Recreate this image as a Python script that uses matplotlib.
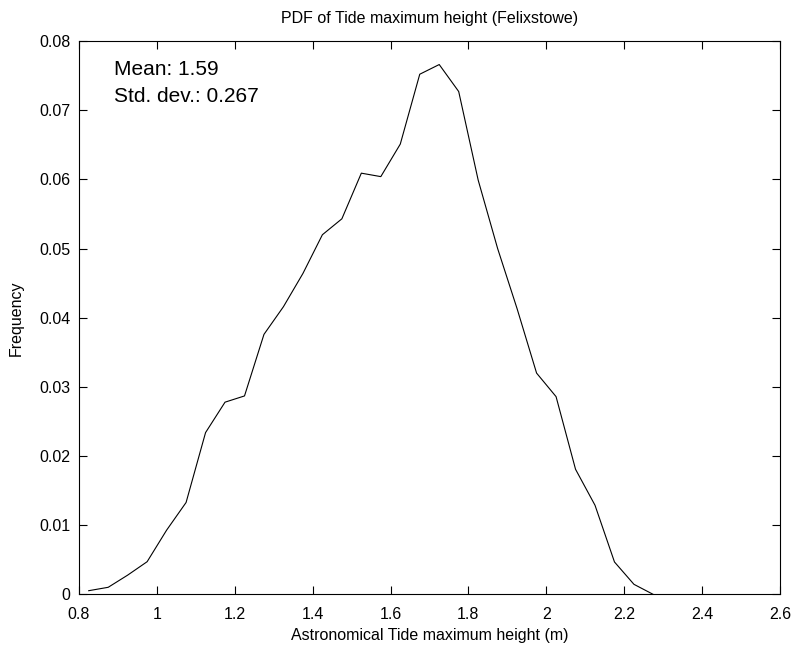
import numpy as np
import matplotlib
matplotlib.use("Agg")
import matplotlib.pyplot as plt

# bin centres (m) and frequencies
height = [0.825, 0.875, 0.925, 0.975, 1.025, 1.075, 1.125, 1.175, 1.225, 1.275,
          1.325, 1.375, 1.425, 1.475, 1.525, 1.575, 1.625, 1.675, 1.725, 1.775,
          1.825, 1.875, 1.925, 1.975, 2.025, 2.075, 2.125, 2.175, 2.225, 2.275]
freq = [0.00055, 0.00104, 0.0028, 0.00474, 0.0093, 0.0133, 0.0234, 0.0278, 0.0287, 0.0376,
        0.0416, 0.0464, 0.0520, 0.0543, 0.0609, 0.0604, 0.0651, 0.0752, 0.0766, 0.0727,
        0.0599, 0.0500, 0.0413, 0.0320, 0.0286, 0.0181, 0.0129, 0.0047, 0.00147, 0.0]

mean_val = 1.59
std_val = 0.267

plt.rcParams['font.family'] = ['Liberation Sans', 'DejaVu Sans']

fig = plt.figure(figsize=(7.93, 6.45), dpi=100)
ax = fig.add_axes([0.0996, 0.0783, 0.8840, 0.8581])

ax.plot(height, freq, color='black', linewidth=0.8)

ax.set_xlim(0.8, 2.6)
ax.set_ylim(0, 0.08)
ax.set_xticks(np.arange(0.8, 2.61, 0.2))
ax.set_xticklabels(['0.8', '1', '1.2', '1.4', '1.6', '1.8', '2', '2.2', '2.4', '2.6'])
ax.set_yticks(np.arange(0, 0.081, 0.01))
ax.set_yticklabels(['0'] + ['%.2f' % v for v in np.arange(0.01, 0.081, 0.01)])
ax.tick_params(direction='in', length=6, width=0.8, top=True, right=True,
               labelsize=11.5)
ax.tick_params(axis='x', pad=9)
ax.tick_params(axis='y', pad=6)
for s in ax.spines.values():
    s.set_linewidth(0.8)

ax.set_title('PDF of Tide maximum height (Felixstowe)', fontsize=11.5, pad=13)
ax.set_xlabel('Astronomical Tide maximum height (m)', fontsize=11.5, labelpad=4)
ax.set_ylabel('Frequency', fontsize=11.5, labelpad=11)

ax.text(0.05, 0.966, 'Mean: %.2f' % mean_val, transform=ax.transAxes,
        fontsize=15, va='top', ha='left')
ax.text(0.05, 0.917, 'Std. dev.: %.3f' % std_val, transform=ax.transAxes,
        fontsize=15, va='top', ha='left')

fig.savefig('out.png', dpi=100)
